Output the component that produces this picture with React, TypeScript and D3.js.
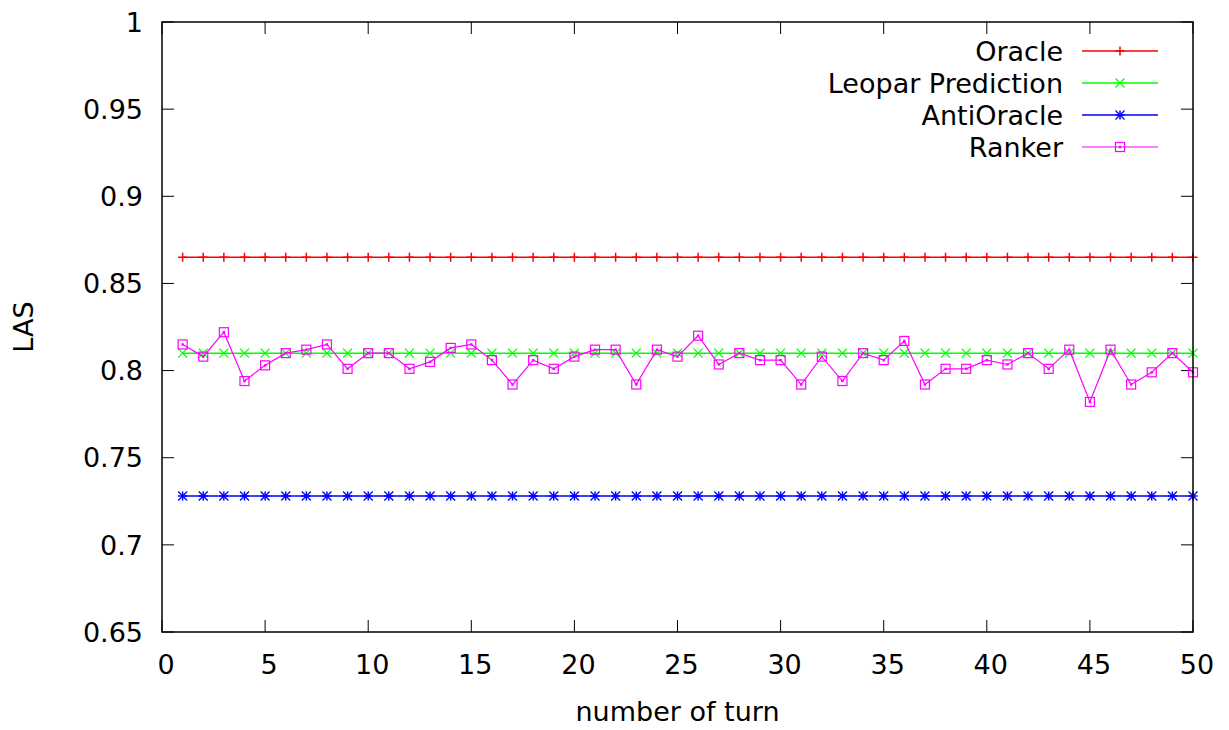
import React from "react";
import * as d3 from "d3";

const turns = d3.range(1, 51);
const oracle = turns.map(() => 0.865);
const leopar = turns.map(() => 0.81);
const antiOracle = turns.map(() => 0.728);
const ranker = [
  0.815, 0.808, 0.822, 0.794, 0.803, 0.81, 0.812, 0.815, 0.801, 0.81,
  0.81, 0.801, 0.805, 0.813, 0.815, 0.806, 0.792, 0.806, 0.801, 0.808,
  0.812, 0.812, 0.792, 0.812, 0.808, 0.82, 0.8035, 0.81, 0.806, 0.806,
  0.792, 0.808, 0.794, 0.81, 0.806, 0.817, 0.792, 0.801, 0.801, 0.806,
  0.8035, 0.81, 0.801, 0.812, 0.782, 0.812, 0.792, 0.799, 0.81, 0.799,
];
const xTicks = d3.range(0, 51, 5);
const yTicks = [0.65, 0.7, 0.75, 0.8, 0.85, 0.9, 0.95, 1];

const W = 1229;
const H = 730;
const m = { left: 162, right: 1193, top: 22, bottom: 632 };
const FONT = "'DejaVu Sans', sans-serif";
const FS = 27;

type Marker = "plus" | "cross" | "star" | "square";

function MarkerShape({ type, cx, cy, color }: { type: Marker; cx: number; cy: number; color: string }) {
  const s = 4.5;
  const plus = <path d={`M${cx - s},${cy}H${cx + s}M${cx},${cy - s}V${cy + s}`} stroke={color} strokeWidth={1.5} />;
  const cross = (
    <path
      d={`M${cx - s},${cy - s}L${cx + s},${cy + s}M${cx - s},${cy + s}L${cx + s},${cy - s}`}
      stroke={color}
      strokeWidth={1.3}
    />
  );
  if (type === "plus") return plus;
  if (type === "cross") return cross;
  if (type === "star")
    return (
      <g>
        {plus}
        {cross}
      </g>
    );
  return (
    <g>
      <rect x={cx - 4.5} y={cy - 4.5} width={9} height={9} fill="none" stroke={color} strokeWidth={1.2} />
      <rect x={cx - 1.2} y={cy - 1.2} width={2.4} height={2.4} fill={color} />
    </g>
  );
}

const series: { name: string; values: number[]; color: string; marker: Marker; width: number }[] = [
  { name: "Oracle", values: oracle, color: "#ff0000", marker: "plus", width: 1.5 },
  { name: "Leopar Prediction", values: leopar, color: "#00ff00", marker: "cross", width: 1.5 },
  { name: "AntiOracle", values: antiOracle, color: "#0000ff", marker: "star", width: 1.5 },
  { name: "Ranker", values: ranker, color: "#ff00ff", marker: "square", width: 1.2 },
];

export default function App() {
  const x = d3.scaleLinear().domain([0, 50]).range([m.left, m.right]);
  const y = d3.scaleLinear().domain([0.65, 1]).range([m.bottom, m.top]);
  const line = (vals: number[]) =>
    d3
      .line<number>()
      .x((_, i) => x(turns[i]))
      .y((d) => y(d))(vals) ?? "";
  const tickLen = 12;

  return (
    <svg width={W} height={H} style={{ position: "absolute", left: 0, top: 0, background: "#fff" }} fontFamily={FONT}>
      <rect width={W} height={H} fill="#fff" />
      {/* ticks */}
      {yTicks.map((t) => (
        <g key={"y" + t}>
          <line x1={m.left} x2={m.left + tickLen} y1={y(t)} y2={y(t)} stroke="#000" strokeWidth={1} />
          <line x1={m.right} x2={m.right - tickLen} y1={y(t)} y2={y(t)} stroke="#000" strokeWidth={1} />
          <text x={143} y={y(t)} dy="0.36em" textAnchor="end" fontSize={FS}>
            {String(t)}
          </text>
        </g>
      ))}
      {xTicks.map((t) => (
        <g key={"x" + t}>
          <line x1={x(t)} x2={x(t)} y1={m.bottom} y2={m.bottom - tickLen} stroke="#000" strokeWidth={1} />
          <line x1={x(t)} x2={x(t)} y1={m.top} y2={m.top + tickLen} stroke="#000" strokeWidth={1} />
          <text x={x(t) + 4} y={674} textAnchor="middle" fontSize={FS}>
            {String(t)}
          </text>
        </g>
      ))}
      {/* series */}
      {series.map((s) => (
        <g key={s.name}>
          <path d={line(s.values)} fill="none" stroke={s.color} strokeWidth={s.width} />
          {s.values.map((v, i) => (
            <MarkerShape key={i} type={s.marker} cx={x(turns[i])} cy={y(v)} color={s.color} />
          ))}
        </g>
      ))}
      {/* border */}
      <rect
        x={m.left}
        y={m.top}
        width={m.right - m.left}
        height={m.bottom - m.top}
        fill="none"
        stroke="#000"
        strokeWidth={1.5}
      />
      {/* legend */}
      {series.map((s, i) => {
        const ly = 51 + i * 32;
        return (
          <g key={"l" + s.name}>
            <text x={1063} y={ly} dy="0.36em" textAnchor="end" fontSize={FS}>
              {s.name}
            </text>
            <line x1={1082} x2={1158} y1={ly} y2={ly} stroke={s.color} strokeWidth={s.width} />
            <MarkerShape type={s.marker} cx={1120} cy={ly} color={s.color} />
          </g>
        );
      })}
      {/* axis labels */}
      <text x={(m.left + m.right) / 2} y={721} textAnchor="middle" fontSize={FS}>
        number of turn
      </text>
      <text transform={`translate(33,${(m.top + m.bottom) / 2}) rotate(-90)`} textAnchor="middle" fontSize={FS}>
        LAS
      </text>
    </svg>
  );
}
